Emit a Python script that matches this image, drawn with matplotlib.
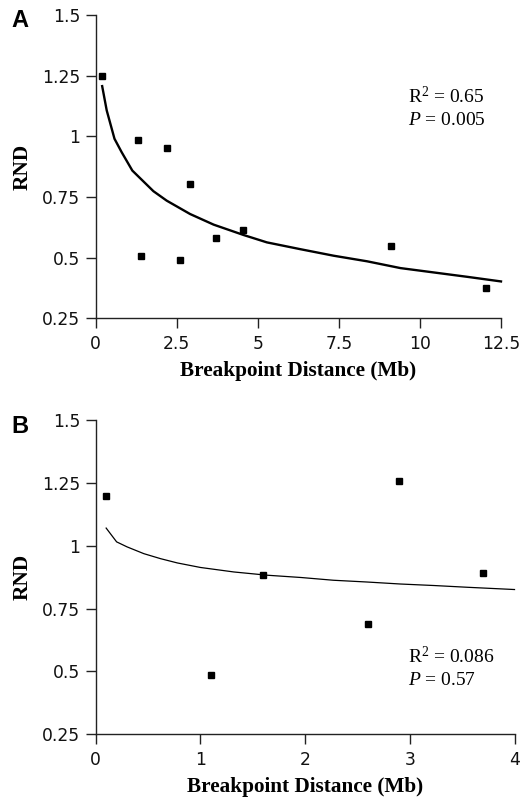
import matplotlib
matplotlib.use("Agg")
import matplotlib.pyplot as plt

plt.rcParams['mathtext.fontset'] = 'custom'
plt.rcParams['mathtext.rm'] = 'Liberation Serif'
plt.rcParams['mathtext.it'] = 'Liberation Serif:italic'

# ---------------- Data ----------------
# Panel A
a_dist = [0.2, 1.3, 1.4, 2.2, 2.6, 2.9, 3.7, 4.55, 9.1, 12.05]
a_rnd = [1.25, 0.985, 0.505, 0.95, 0.49, 0.805, 0.58, 0.615, 0.55, 0.375]
a_fit_x = [0.2, 0.34, 0.58, 0.8, 1.13, 1.78, 2.19, 2.91, 3.64, 4.57, 5.28, 6.31,
           7.34, 8.37, 9.40, 10.43, 11.46, 12.5]
a_fit_y = [1.207, 1.107, 0.990, 0.935, 0.859, 0.774, 0.735, 0.680, 0.636, 0.593,
           0.563, 0.535, 0.508, 0.485, 0.457, 0.439, 0.421, 0.402]
a_xticks = [0, 2.5, 5, 7.5, 10, 12.5]
a_xticklabels = ["0", "2.5", "5", "7.5", "10", "12.5"]

# Panel B
b_dist = [0.1, 1.1, 1.6, 2.6, 2.9, 3.7]
b_rnd = [1.2, 0.486, 0.882, 0.687, 1.257, 0.89]
b_fit_x = [0.1, 0.2, 0.3, 0.46, 0.62, 0.78, 1.0, 1.32, 1.64, 1.96, 2.27, 2.59,
           2.91, 3.23, 3.55, 4.0]
b_fit_y = [1.071, 1.016, 0.996, 0.969, 0.949, 0.932, 0.914, 0.896, 0.883, 0.874,
           0.863, 0.856, 0.848, 0.842, 0.835, 0.826]
b_xticks = [0, 1, 2, 3, 4]
b_xticklabels = ["0", "1", "2", "3", "4"]

yticks = [0.25, 0.5, 0.75, 1.0, 1.25, 1.5]
yticklabels = ["0.25", "0.5", "0.75", "1", "1.25", "1.5"]

xlabel = "Breakpoint Distance (Mb)"
ylabel = "RND"

# ---------------- Figure ----------------
fig = plt.figure(figsize=(5.24, 8.0), dpi=100)
axA = fig.add_axes([0.1826, 0.6021, 0.7735, 0.3791])
axB = fig.add_axes([0.1826, 0.0825, 0.7993, 0.3919])

spine_col = '#222222'


def style(ax, xticks, xticklabels, xmax):
    ax.set_xlim(0, xmax)
    ax.set_ylim(0.25, 1.5)
    for s in ['top', 'right']:
        ax.spines[s].set_visible(False)
    for s in ['left', 'bottom']:
        ax.spines[s].set_linewidth(1.0)
        ax.spines[s].set_color(spine_col)
    ax.set_xticks(xticks)
    ax.set_xticklabels(xticklabels)
    ax.set_yticks(yticks)
    ax.set_yticklabels(yticklabels)
    ax.tick_params(direction='out', length=7, width=1.0, color=spine_col,
                   labelsize=12.3, pad=4)
    ax.tick_params(axis='x', pad=5)
    for lab in ax.get_xticklabels() + ax.get_yticklabels():
        lab.set_fontfamily('DejaVu Sans')
        lab.set_color('#111111')
    ax.set_xlabel(xlabel, fontfamily='Liberation Serif', fontweight='bold',
                  fontsize=15.3, labelpad=6)
    ax.set_ylabel(ylabel, fontfamily='Liberation Serif', fontweight='bold',
                  fontsize=15.3, labelpad=7)


style(axA, a_xticks, a_xticklabels, 12.5)
style(axB, b_xticks, b_xticklabels, 4)

axA.plot(a_fit_x, a_fit_y, color='black', lw=1.7, clip_on=False)
axA.plot(a_dist, a_rnd, 's', color='black', ms=4.8, clip_on=False)
axB.plot(b_fit_x, b_fit_y, color='black', lw=0.9, clip_on=False)
axB.plot(b_dist, b_rnd, 's', color='black', ms=4.8, clip_on=False)

tkw = dict(fontfamily='Liberation Serif', fontsize=14, ha='left', va='baseline')
axA.text(0.771, 0.709, r"R$^{\mathrm{2}}$ = 0.65", transform=axA.transAxes, **tkw)
axA.text(0.771, 0.637, "$P$ = 0.005", transform=axA.transAxes, **tkw)
axB.text(0.746, 0.2255, r"R$^{\mathrm{2}}$ = 0.086", transform=axB.transAxes, **tkw)
axB.text(0.746, 0.156, "$P$ = 0.57", transform=axB.transAxes, **tkw)

fig.text(11.7 / 524, 1 - 26.7 / 800, "A", fontfamily='Liberation Sans',
         fontweight='bold', fontsize=17, ha='left', va='baseline')
fig.text(11.7 / 524, 1 - 432.7 / 800, "B", fontfamily='Liberation Sans',
         fontweight='bold', fontsize=17, ha='left', va='baseline')

fig.savefig("out.png", dpi=100)
